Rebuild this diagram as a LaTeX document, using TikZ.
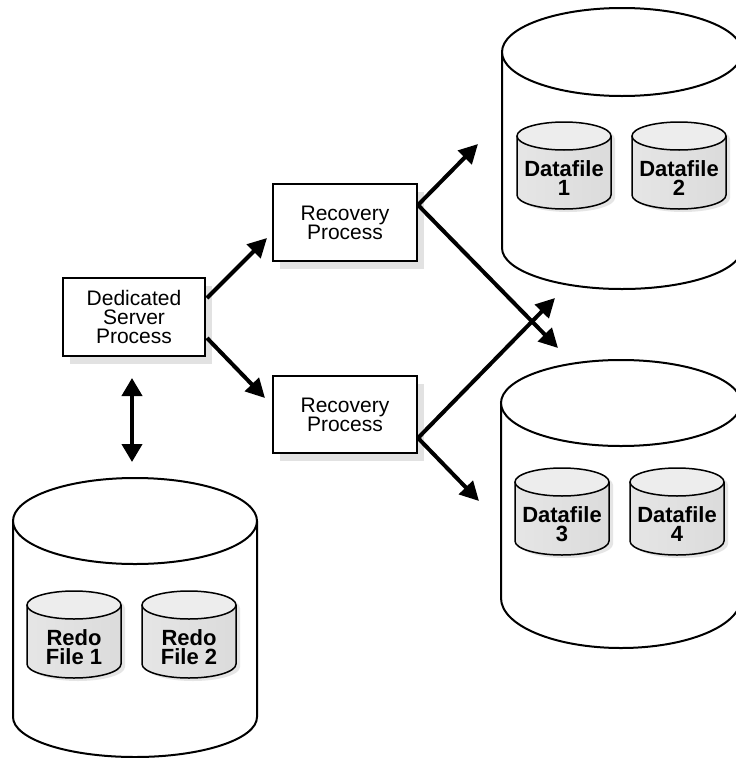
\documentclass[tikz,border=0pt]{standalone}
\usepackage{fontspec}
\setmainfont{Liberation Sans}
\usetikzlibrary{arrows.meta,shadows,calc}
\definecolor{shadowgrey}{HTML}{E2E2E2}
\newcommand{\minicyl}[4]{%
  \fill[black!10] ({#1-47+4},{-#2-3}) -- ({#1-47+4},{-#2-59-3}) arc[start angle=180,end angle=360,x radius=47,y radius=14] -- ({#1+47+4},{-#2-3}) arc[start angle=0,end angle=180,x radius=47,y radius=14] -- cycle;
  \path[left color=black!10,middle color=black!3,right color=black!14] ({#1-47},{-#2}) -- ({#1-47},{-#2-59}) arc[start angle=180,end angle=360,x radius=47,y radius=14] -- ({#1+47},{-#2}) arc[start angle=0,end angle=180,x radius=47,y radius=14] -- cycle;
  \draw[line width=1.5pt] ({#1-47},{-#2}) -- ({#1-47},{-#2-59}) arc[start angle=180,end angle=360,x radius=47,y radius=14] -- ({#1+47},{-#2});
  \draw[line width=1.5pt,fill=black!7] (#1,{-#2}) ellipse[x radius=47,y radius=14];
  \node[cyltext] (#3) at (#1,{-#2-42}) {#4};
}
\begin{document}
\begin{tikzpicture}[x=1pt,y=1pt,
  bigcyl/.style={draw=black,line width=2pt,fill=white},
  procbox/.style={draw=black,line width=2pt,fill=white,minimum width=144pt,minimum height=77pt,align=center,inner sep=0pt,
    font=\fontsize{21}{19}\selectfont,
    drop shadow={shadow xshift=7pt,shadow yshift=-8pt,fill=shadowgrey,opacity=1}},
  flow/.style={line width=4pt,-{Triangle[length=19pt,width=19pt]}},
  dflow/.style={line width=4pt,{Triangle[length=18pt,width=20pt]}-{Triangle[length=18pt,width=20pt]}},
  cyltext/.style={align=center,inner sep=0pt,font=\bfseries\fontsize{22}{19.5}\selectfont}]
\useasboundingbox (0,0) rectangle (736,-758);
\clip (0,0) rectangle (736,-758);

% big cylinder 1 (top right)
\draw[bigcyl] (502,-52) -- (502,-248) arc[start angle=180,end angle=360,x radius=120,y radius=41] -- (742,-52);
\draw[bigcyl] (622,-52) ellipse[x radius=120,y radius=44];
% big cylinder 2 (middle right)
\draw[bigcyl] (501,-403) -- (501,-598) arc[start angle=180,end angle=360,x radius=120,y radius=50] -- (741,-403);
\draw[bigcyl] (621,-403) ellipse[x radius=120,y radius=43];
% big cylinder 3 (bottom left)
\draw[bigcyl] (13,-521) -- (13,-717) arc[start angle=180,end angle=360,x radius=122,y radius=40] -- (257,-521);
\draw[bigcyl] (135,-521) ellipse[x radius=122,y radius=43];

\minicyl{564}{136}{df1}{Datafile\\1}
\minicyl{679}{136}{df2}{Datafile\\2}
\minicyl{562}{482}{df3}{Datafile\\3}
\minicyl{677}{482}{df4}{Datafile\\4}
\minicyl{74}{605}{redo1}{Redo\\File 1}
\minicyl{189}{605}{redo2}{Redo\\File 2}

% process boxes
\node[procbox,minimum width=142pt,minimum height=78pt] (ded) at (134,-317) {Dedicated\\Server\\Process};
\node[procbox] (rec1) at (345,-222.5) {Recovery\\Process};
\node[procbox] (rec2) at (345,-414.5) {Recovery\\Process};

% arrow tips
\coordinate (t1) at (267,-238);
\coordinate (t2) at (265,-398);
\coordinate (t3) at (478,-144);
\coordinate (t4) at (558,-348);
\coordinate (t5) at (555,-298);
\coordinate (t6) at (479,-501);
\coordinate (u1) at (132,-378);
\coordinate (u2) at (132,-462);

\draw[flow] ([xshift=1pt,yshift=19pt]ded.east) -- (t1);
\draw[flow] ([xshift=1pt,yshift=-21pt]ded.east) -- (t2);
\draw[flow] ([yshift=17.5pt]rec1.east) -- (t3);
\draw[flow] ([yshift=17.5pt]rec1.east) -- (t4);
\draw[flow] ([yshift=-23.5pt]rec2.east) -- (t5);
\draw[flow] ([yshift=-23.5pt]rec2.east) -- (t6);
\draw[dflow] (u1) -- (u2);
\end{tikzpicture}
\end{document}
